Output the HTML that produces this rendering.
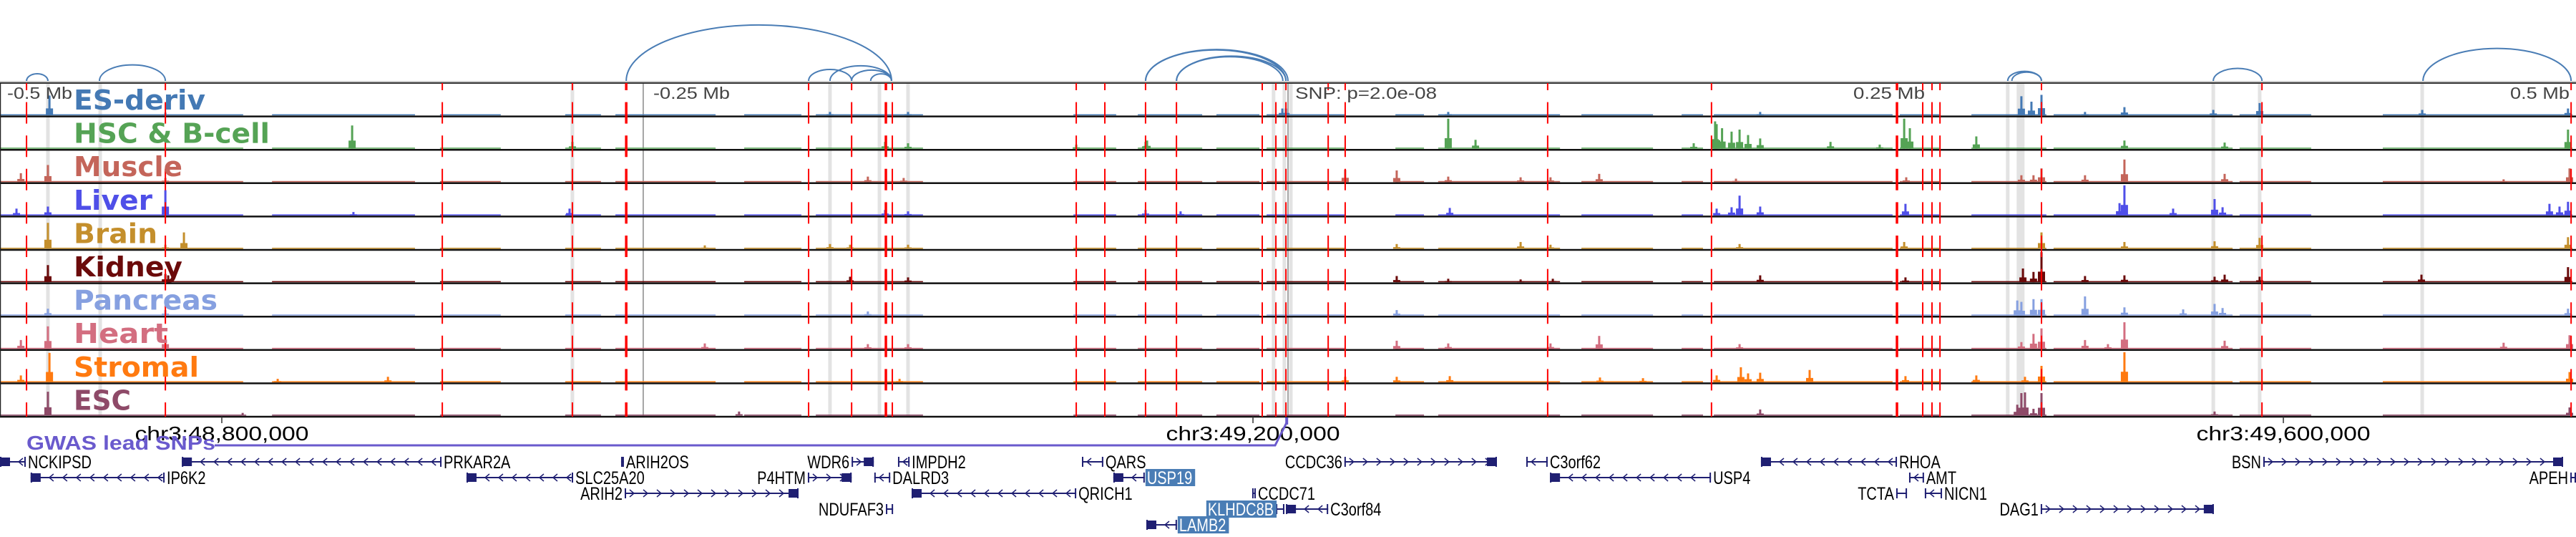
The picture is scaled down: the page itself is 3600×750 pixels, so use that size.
<!DOCTYPE html>
<html><head><meta charset="utf-8">
<style>
html,body{margin:0;padding:0;background:#fff;}
svg{display:block;font-family:"Liberation Sans","DejaVu Sans",sans-serif;}
</style></head>
<body>
<svg id="chart" width="3600" height="750" viewBox="0 0 3600 750" xmlns="http://www.w3.org/2000/svg">
<g id="bands"></g>
<g id="tracks"></g>
<g id="redlines"></g>
<g id="arcs"></g>
<g id="labels"></g>
<g id="axis"></g>
<g id="genes"></g>
</svg>
<script>
// positions in kb from window start (window = 1 Mb centred on lead SNP)
const trackNames = ['ES-deriv','HSC & B-cell','Muscle','Liver','Brain','Kidney','Pancreas','Heart','Stromal','ESC'];
const trackColors = ['#4479b4','#55a355','#c4655a','#4f4fe8','#c48f2c','#6b0a0a','#86a0e0','#d36e80','#ff7a10','#8e4a68'];
const labelWidths = [184,274,152,110,117,152,201,132,175,80];
const peaksES = [[19.2,29],[64.2,4],[322.2,5],[352.5,5],[497.8,10],[499.2,10],[562.2,5],[683.3,5],[784.7,28],[788.6,20],[792.5,30],[809.4,5],[824.7,12],[859.2,8],[877.2,18],[940.3,8],[996.9,10]];
const peaksHSC = [[136.7,34],[222.2,10],[343.6,10],[352.5,8],[444.7,10],[445.3,12],[417.8,6],[562.2,44],[572.8,13],[657.5,8],[665.8,40],[666.4,36],[668.5,30],[672.2,25],[675.3,28],[678.6,20],[683.3,15],[710.6,10],[729.7,6],[739.2,44],[741.4,30],[767.2,18],[824.7,12],[863.6,9],[996.9,28]];
const peaksMuscle = [[8.1,13],[18.6,25],[64.2,6],[336.9,8],[350.8,6],[522.2,18],[542.2,17],[562.2,8],[590.3,7],[601.9,7],[620.8,12],[673.9,5],[740,7],[784.7,10],[789.4,10],[792.5,20],[809.4,10],[824.7,33],[863.6,12],[971.9,4],[997.5,20]];
const peaksLiver = [[6.4,10],[18.6,13],[64.2,37],[137.2,5],[221.1,10],[343.6,8],[352.5,6],[444.7,8],[458.3,6],[562.8,11],[666.4,10],[672.2,12],[675.3,29],[683.3,13],[739.7,17],[822.8,18],[824.7,44],[843.6,10],[859.7,24],[862.8,12],[989.7,17],[993.6,13],[996.9,20]];
const peaksBrain = [[18.6,38],[64.2,6],[71.4,24],[273.6,5],[322.2,7],[330,6],[352.5,6],[542.2,7],[590.3,10],[601.9,6],[675.3,7],[739.2,10],[792.5,24],[824.7,10],[859.7,11],[877.2,16],[996.9,17]];
const peaksKidney = [[18.6,25],[64.2,12],[65.3,10],[330,8],[352.5,7],[542.2,9],[562.2,5],[590.3,4],[602.8,5],[683.3,10],[739.7,7],[785.3,20],[789.4,15],[792.5,44],[809.4,9],[824.7,10],[859.7,8],[863.6,11],[877.2,8],[940,11],[996.9,22]];
const peaksPancreas = [[18.6,10],[64.2,8],[336.9,6],[542.2,8],[783.1,22],[784.7,20],[789.4,24],[792.5,24],[809.4,28],[824.7,12],[847.5,9],[859.7,17],[862.8,11],[996.9,10]];
const peaksHeart = [[8.1,13],[18.6,33],[64.2,20],[273.6,8],[336.9,7],[352.5,7],[542.2,12],[562.2,8],[601.9,8],[620.8,19],[675.3,7],[784.7,10],[789.4,22],[792.5,30],[809.4,13],[818.3,7],[824.7,39],[863.6,12],[971.9,9],[997.5,20]];
const peaksStromal = [[8.1,10],[19.2,43],[107.8,5],[150.6,8],[349.2,5],[522.2,8],[542.2,8],[562.8,9],[621.1,7],[637.8,6],[666.4,10],[675.8,22],[678.6,13],[683.3,14],[702.5,18],[739.7,9],[767.2,10],[786.1,8],[792.5,24],[824.7,44],[997.5,15]];
const peaksESC = [[18.6,35],[94.2,4],[286.9,6],[683.3,9],[783.1,16],[784.7,33],[786.1,34],[789.4,10],[792.5,33],[859.7,6],[997.5,12]];
const trackPeaks = [peaksES,peaksHSC,peaksMuscle,peaksLiver,peaksBrain,peaksKidney,peaksPancreas,peaksHeart,peaksStromal,peaksESC];
const baseStart = [0,105.6,170.8,219.4,238.9,288.9,316.7,416.7,441.7,472.2,491.7,541.7,558.3,613.9,652.8,665.3,737.5,765.3,797.2,869.4,925];
const baseEnd   = [94.4,161.1,194.4,233.3,277.8,311.1,358.3,433.3,466.7,488.9,522.2,552.8,605.6,641.7,661.1,734.7,752.8,794.4,866.7,897.2,998.6];
const redLinePos = [10.3,64.2,171.7,222.2,243.1,313.9,330.6,343.9,346.4,417.8,428.9,444.7,456.7,490,495.3,499.2,515.6,522.2,600.8,664.4,736.4,746.4,750,753.1,792.5,878.1,998.1];
const redLineThick = [0,0,0,0,1,0,0,1,0,0,0,0,0,0,0,0,0,0,0,0,1,0,0,0,0,0,0];
const bandPos = [18.6,38.9,222.2,322.2,341.4,352.5,494.4,498.6,501.1,779.4,784.4,859.2,877.2,940.3];
const bandWidth = [5,5,5,5,5,5,5,5,5,5,11,5,5,5];
const arcStart = [10.3,38.6,243.1,313.9,322.2,330.6,338,444.7,444.7,456.7,456.7,779.4,781,859.2,940.6];
const arcEnd   = [18.6,64.2,346.1,330.6,346.1,346.1,346.1,499.2,500,499.2,498,792.5,792.5,878.1,998.1];
const axisTicks = [86.1,486.4,886.4];
const axisLabels = ['chr3:48,800,000','chr3:49,200,000','chr3:49,600,000'];
const geneNames = ['NCKIPSD','IP6K2','PRKAR2A','SLC25A20','ARIH2OS','ARIH2','P4HTM','WDR6','IMPDH2','DALRD3','NDUFAF3','QRICH1','QARS','USP19','CCDC36','CCDC71','KLHDC8B','C3orf84','LAMB2','C3orf62','USP4','RHOA','AMT','TCTA','NICN1','DAG1','BSN','APEH'];
const geneStart = [0,11.9,70.6,181.1,241.1,242.5,313.6,330.6,348.6,339.4,343.9,353.9,420,432.2,521.9,486.1,495.3,499.2,445,592.5,601.7,683.6,741.1,736.1,747.2,792.2,878.6,997.8];
const geneEnd   = [10,63.9,171.4,222.5,242.2,310,330.6,339.2,353.1,345.6,346.7,417.8,428.3,444.4,581.1,487.5,498.6,515.6,456.9,600.8,664.2,736.4,746.9,740.3,753.9,859.4,995,1000];
const geneRow   = [0,1,0,1,0,2,1,0,0,1,3,2,0,1,0,2,3,3,4,0,1,0,1,2,2,3,0,1];
const geneStrand= [-1,-1,-1,-1,1,1,1,1,-1,-1,1,-1,-1,-1,1,-1,-1,-1,-1,-1,-1,-1,-1,1,-1,1,1,1];
const labelRight= [1,1,1,1,1,0,0,0,1,1,0,1,1,1,0,1,0,1,1,1,1,1,1,0,1,0,0,0];
const geneHighlight = [0,0,0,0,0,0,0,0,0,0,0,0,0,1,0,0,1,0,1,0,0,0,0,0,0,0,0,0];

const NS='http://www.w3.org/2000/svg';
const xS = kb => kb*3.6;
const TOP=116, TH=46.6, BOT=TOP+10*TH;
const yMax=44;
const hS = v => v/yMax*42;
function mk(parent,tag,attrs){const e=document.createElementNS(NS,tag);for(const k in attrs)e.setAttribute(k,attrs[k]);parent.appendChild(e);return e;}
const gBands=document.getElementById('bands'),gTracks=document.getElementById('tracks'),gRed=document.getElementById('redlines'),gArcs=document.getElementById('arcs'),gLab=document.getElementById('labels'),gAxis=document.getElementById('axis'),gGenes=document.getElementById('genes');

bandPos.forEach((p,i)=>{
  const r=mk(gBands,'rect',{x:xS(p)-bandWidth[i]/2,y:TOP,width:bandWidth[i],height:BOT-TOP,fill:'#e3e3e3'});
  
  
});
[249.7,500].forEach(p=>{
  const l=mk(gBands,'line',{x1:xS(p),x2:xS(p),y1:TOP,y2:BOT,stroke:'#888','stroke-width':1.5});
  
  
});

trackNames.forEach((name,i)=>{
  const top=TOP+i*TH, base=top+TH-1.5, col=trackColors[i];
  const g=mk(gTracks,'g',{});
  
  
  baseStart.forEach((s,j)=>{
    const r=mk(g,'rect',{x:xS(s),y:base-1.5,width:xS(baseEnd[j])-xS(s),height:1.5,fill:col});
    
    
  });
  trackPeaks[i].forEach(([p,v])=>{
    const h=hS(v);
    const r=mk(g,'rect',{x:xS(p)-1.5,y:base-h,width:3,height:h,fill:col});
    
    
    const s=mk(g,'rect',{x:xS(p)-5,y:base-h*0.35,width:10,height:h*0.35,fill:col});
    
    
  });
  const b=mk(g,'line',{x1:0,x2:3600,y1:top+TH,y2:top+TH,stroke:'#111','stroke-width':2.5});
  
  
});
const tb=mk(gTracks,'line',{x1:0,x2:3600,y1:TOP,y2:TOP,stroke:'#333','stroke-width':2});


const tb2=mk(gTracks,'line',{x1:0,x2:3600,y1:TOP-2,y2:TOP-2,stroke:'#ccc','stroke-width':2});


const lb=mk(gTracks,'line',{x1:0.5,x2:0.5,y1:TOP,y2:BOT,stroke:'#222','stroke-width':1.5});



redLinePos.forEach((p,i)=>{
  const l=mk(gRed,'line',{x1:xS(p),x2:xS(p),y1:TOP,y2:BOT,stroke:'#f00','stroke-width':redLineThick[i]?3.5:2,'stroke-dasharray':'30 16.6','stroke-dashoffset':20});
  
  
});

arcStart.forEach((s,i)=>{
  const x1=xS(s),x2=xS(arcEnd[i]),span=x2-x1,h=4+0.2*span,base=113;
  const p=mk(gArcs,'path',{d:`M${x1},${base} A${span/2},${h} 0 0 1 ${x2},${base}`,fill:'none',stroke:'#4a7db5','stroke-width':2});
  
  
});

trackNames.forEach((name,i)=>{
  const t=mk(gLab,'text',{x:103,y:TOP+i*TH+37,'font-family':'"DejaVu Sans","Liberation Sans",sans-serif','font-weight':'bold','font-size':38,fill:trackColors[i],textLength:labelWidths[i],lengthAdjust:'spacingAndGlyphs'});
  t.textContent=name;
  
  
});
const distText=['-0.5 Mb','-0.25 Mb','SNP: p=2.0e-08','0.25 Mb','0.5 Mb'];
const distX=[10,913,1810,2590,3508];
const distW=[91,107,198,100,83];
distText.forEach((s,i)=>{
  const t=mk(gLab,'text',{x:distX[i],y:138,'font-size':23,fill:'#444',textLength:distW[i],lengthAdjust:'spacingAndGlyphs'});
  t.textContent=s;
  
  
});

axisTicks.forEach((p,i)=>{
  const l=mk(gAxis,'line',{x1:xS(p),x2:xS(p),y1:BOT,y2:BOT+9,stroke:'#333','stroke-width':1.5});
  
  
  const t=mk(gAxis,'text',{x:xS(p),y:615,'font-size':28,'text-anchor':'middle',fill:'#000',textLength:243,lengthAdjust:'spacingAndGlyphs'});
  t.textContent=axisLabels[i];
  
  
});
const gw=mk(gAxis,'text',{x:37,y:628,'font-size':28,'font-weight':'bold',fill:'#6a5acd',textLength:264,lengthAdjust:'spacingAndGlyphs'});
gw.textContent='GWAS lead SNPs';


const gl=mk(gAxis,'polyline',{points:`300,622 ${xS(495)},622 ${xS(499.5)},590`,fill:'none',stroke:'#6a5acd','stroke-width':3});


const gm=mk(gAxis,'rect',{x:xS(499.5)-2,y:583,width:4,height:10,fill:'#6a5acd'});



geneNames.forEach((name,i)=>{
  const y=645+geneRow[i]*22, x1=xS(geneStart[i]), x2=xS(geneEnd[i]);
  const g=mk(gGenes,'g',{});
  
  
  mk(g,'line',{x1:x1,x2:x2,y1:y,y2:y,stroke:'#1f1f72','stroke-width':2});
  for(let cx=x1+10;cx<x2-6;cx+=19){
    const d=geneStrand[i]>0?`M${cx-3},${y-5} L${cx+3},${y} L${cx-3},${y+5}`:`M${cx+3},${y-5} L${cx-3},${y} L${cx+3},${y+5}`;
    mk(g,'path',{d:d,fill:'none',stroke:'#1f1f72','stroke-width':1.5});
  }
  mk(g,'rect',{x:x1,y:y-7,width:2,height:14,fill:'#1f1f72'});
  mk(g,'rect',{x:x2-2,y:y-7,width:2,height:14,fill:'#1f1f72'});
  if(x2-x1>30){const bx=geneStrand[i]>0?x2-14:x1;mk(g,'rect',{x:bx,y:y-6,width:14,height:12,fill:'#1f1f72'});}
  const t=mk(g,'text',{x:labelRight[i]?x2+3:x1-3,y:y+9,'font-size':25,'text-anchor':labelRight[i]?'start':'end',fill:geneHighlight[i]?'#fff':'#000'});
  t.textContent=name;
  
  
  const w=t.getComputedTextLength()*0.8;
  t.setAttribute('textLength',w);
  t.setAttribute('lengthAdjust','spacingAndGlyphs');
  if(geneHighlight[i]){
    const bx=labelRight[i]?x2+1:x1-w-5;
    const r=document.createElementNS(NS,'rect');
    r.setAttribute('x',bx);r.setAttribute('y',y-12);r.setAttribute('width',w+6);r.setAttribute('height',24);r.setAttribute('fill','#4a7db5');
    
    
    g.insertBefore(r,t);
  }
});
</script>
</body></html>
